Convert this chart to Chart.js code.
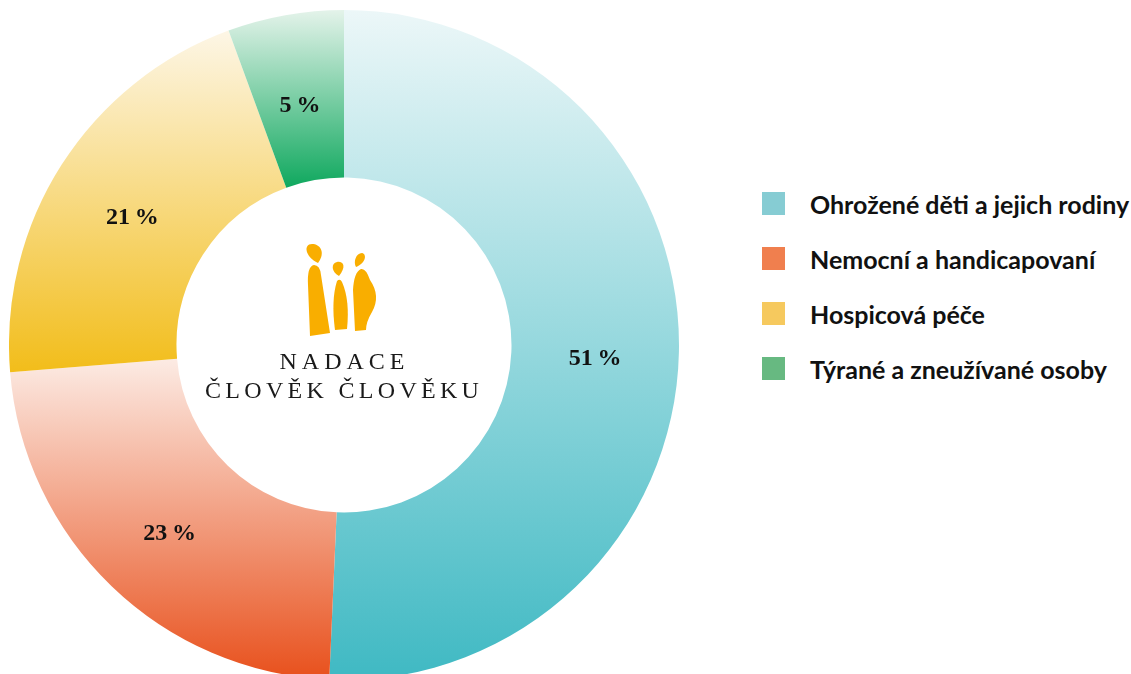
<!DOCTYPE html>
<html>
<head>
<meta charset="utf-8">
<script src="https://cdn.jsdelivr.net/npm/chart.js@4/dist/chart.umd.min.js"></script>
<style>
  html, body { margin: 0; padding: 0; background: #fff; overflow: hidden; }
  #wrap { position: absolute; left: 9px; top: 10px; width: 670px; height: 670px; }
  #legend { position: absolute; left: 762px; top: 192px; font-family: Lato, "Open Sans", sans-serif; font-weight: 700; font-size: 25px; color: #111; }
  .item { height: 23px; margin-bottom: 32px; display: flex; align-items: center; white-space: nowrap; }
  .box { width: 23px; height: 23px; margin-right: 25px; flex: none; }
</style>
</head>
<body>
<div id="wrap"><canvas id="chart" width="670" height="670"></canvas></div>
<div id="legend"></div>
<script>
const CATEGORIES = ['Ohrožené děti a jejich rodiny', 'Nemocní a handicapovaní', 'Hospicová péče', 'Týrané a zneužívané osoby'];
// shares
const VALUES = [50.7, 23.0, 20.7, 5.6];
// printed labels as shown on the slices
const PERCENT_LABELS = ['51\u2009%', '23\u2009%', '21\u2009%', '5\u2009%'];
const LEGEND_COLORS = ['#86ccd3', '#f07f4e', '#f6c95e', '#67b981'];
// light top -> saturated bottom, per slice
const GRAD_TOP = ['#ecf7f8', '#fcebe4', '#fdf6e6', '#e4f3ea'];
const GRAD_BOTTOM = ['#3fb9c3', '#e8501c', '#f2bd1a', '#0fa85e'];

const CUTOUT = 0.5;

// y extent of one slice, so every slice gets its own vertical gradient
function sliceExtent(chart, i) {
    const a = chart.chartArea;
    const cx = (a.left + a.right) / 2, cy = (a.top + a.bottom) / 2;
    const R = Math.min(a.right - a.left, a.bottom - a.top) / 2;
    const r = R * CUTOUT;
    const total = VALUES.reduce((s, v) => s + v, 0);
    let start = -Math.PI / 2;
    for (let k = 0; k < i; k++) start += VALUES[k] / total * Math.PI * 2;
    const end = start + VALUES[i] / total * Math.PI * 2;
    let lo = Infinity, hi = -Infinity;
    for (let s = 0; s <= 60; s++) {
        const t = start + (end - start) * s / 60;
        [R, r].forEach(rad => {
            const y = cy + rad * Math.sin(t);
            lo = Math.min(lo, y); hi = Math.max(hi, y);
        });
    }
    return [lo, hi];
}

const labelPlugin = {
    id: 'labels',
    afterDatasetsDraw(chart) {
        const ctx = chart.ctx;
        ctx.save();
        ctx.font = 'bold 24px "Liberation Serif", serif';
        ctx.fillStyle = '#111';
        ctx.textAlign = 'center';
        ctx.textBaseline = 'middle';
        chart.getDatasetMeta(0).data.forEach((arc, i) => {
            const p = arc.tooltipPosition();
            ctx.fillText(PERCENT_LABELS[i], p.x, p.y + 8);
        });
        ctx.restore();
    }
};

function spacedText(ctx, text, cx, y, gap) {
    const widths = [...text].map(ch => ctx.measureText(ch).width);
    const w = widths.reduce((s, v) => s + v, 0) + gap * (widths.length - 1);
    let x = cx - w / 2;
    [...text].forEach((ch, k) => { ctx.fillText(ch, x, y); x += widths[k] + gap; });
}

const logoPlugin = {
    id: 'logo',
    afterDraw(chart) {
        const ctx = chart.ctx;
        ctx.save();
        ctx.translate(-9, -10); // draw in page coordinates
        ctx.fillStyle = '#f9ae00';
        const shapes = [
            p => { p.moveTo(318, 263); p.bezierCurveTo(305, 257, 303, 244, 312, 244); p.bezierCurveTo(320, 244, 326, 252, 318, 263); },
            p => { p.moveTo(310, 336); p.lineTo(308, 285); p.quadraticCurveTo(307, 266, 314, 265); p.quadraticCurveTo(320, 265, 321, 275); p.lineTo(330, 333); },
            p => { p.moveTo(339, 276); p.bezierCurveTo(331, 272, 331, 263, 337, 262); p.bezierCurveTo(343, 261, 347, 266, 339, 276); },
            p => { p.moveTo(335, 330); p.quadraticCurveTo(331, 300, 337, 281); p.quadraticCurveTo(340, 278, 342, 282); p.quadraticCurveTo(350, 300, 347, 329); },
            p => { p.moveTo(356, 267); p.bezierCurveTo(353, 262, 356, 253, 362, 253); p.bezierCurveTo(367, 254, 366, 263, 356, 267); },
            p => { p.moveTo(355, 331); p.lineTo(353, 290); p.quadraticCurveTo(354, 272, 361, 269); p.quadraticCurveTo(366, 268, 370, 280); p.quadraticCurveTo(381, 296, 372, 312); p.quadraticCurveTo(366, 322, 366, 330); }
        ];
        shapes.forEach(fn => { ctx.beginPath(); fn(ctx); ctx.closePath(); ctx.fill(); });

        ctx.fillStyle = '#1a1a1a';
        ctx.font = '24px "Liberation Serif", serif';
        ctx.textBaseline = 'alphabetic';
        spacedText(ctx, 'NADACE', 342, 369, 5);
        spacedText(ctx, 'ČLOVĚK ČLOVĚKU', 342, 398, 4.3);
        ctx.restore();
    }
};

new Chart(document.getElementById('chart'), {
    type: 'doughnut',
    data: {
        labels: CATEGORIES,
        datasets: [{
            data: VALUES,
            borderWidth: 0,
            backgroundColor: c => {
                const chart = c.chart;
                if (!chart.chartArea) return LEGEND_COLORS[c.dataIndex];
                const [y0, y1] = sliceExtent(chart, c.dataIndex);
                const g = chart.ctx.createLinearGradient(0, y0, 0, y1);
                g.addColorStop(0, GRAD_TOP[c.dataIndex]);
                g.addColorStop(1, GRAD_BOTTOM[c.dataIndex]);
                return g;
            },
        }]
    },
    options: {
        responsive: false,
        animation: false,
        events: [],
        cutout: (CUTOUT * 100) + '%',
        layout: { padding: 0 },
        plugins: {
            legend: { display: false },
            tooltip: { enabled: false },
        }
    },
    plugins: [labelPlugin, logoPlugin]
});

const legend = document.getElementById('legend');
CATEGORIES.forEach((name, i) => {
    const row = document.createElement('div');
    row.className = 'item';
    row.innerHTML = `<span class="box" style="background:${LEGEND_COLORS[i]}"></span><span>${name}</span>`;
    legend.appendChild(row);
});
</script>
</body>
</html>
